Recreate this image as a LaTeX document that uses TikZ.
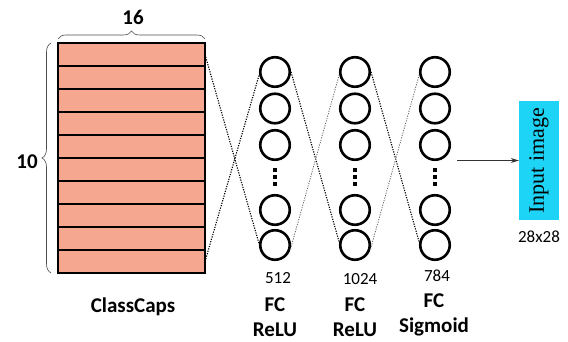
\documentclass[tikz,border=0pt]{standalone}
\usepackage{fontspec}
\setmainfont{Carlito}
\newfontfamily\serifx{Liberation Serif}
\usetikzlibrary{decorations.pathreplacing,arrows.meta}
\definecolor{salmon}{RGB}{245,168,143}
\definecolor{cyanbox}{RGB}{30,212,246}
\tikzset{
  row/.style={draw=black, line width=1.1pt, fill=salmon, minimum width=147pt, minimum height=23pt, inner sep=0pt, outer sep=0pt},
  neuron/.style={circle, draw=black, line width=2.6pt, minimum size=29.5pt, inner sep=0pt},
  dotsq/.style={fill=black, minimum size=3.2pt, inner sep=0pt},
  darkdot/.style={black, line width=1.1pt, dash pattern=on 1.2pt off 1.3pt},
  lightdot/.style={black!60, line width=0.8pt, dash pattern=on 1.2pt off 1.3pt},
  bracestyle/.style={black!70, line width=0.6pt, decorate},
  boldlab/.style={font=\fontsize{21}{24}\selectfont\bfseries, inner sep=0pt},
  numlab/.style={font=\fontsize{17}{19}\selectfont, inner sep=0pt},
}
\begin{document}
\begin{tikzpicture}[x=1pt,y=-1pt]
\useasboundingbox (0,0) rectangle (568,342);
% rows
\foreach \i in {1,...,10}{
  \node[row] (r\i) at (131.5,{43+23*(\i-0.5)}) {};
}
% braces
\draw[bracestyle, decoration={brace, amplitude=8pt}] (58,39) -- (205,39);
\draw[bracestyle, decoration={brace, amplitude=9pt}] (51,273) -- (51,43);
\node[boldlab] (n16) at (133,17) {16};
\node[boldlab] (n10) at (27,162) {10};
% neurons
\foreach \c/\x in {1/275,2/355,3/435}{
  \node[neuron] (c\c1) at (\x,72) {};
  \node[neuron] (c\c2) at (\x,108.5) {};
  \node[neuron] (c\c3) at (\x,145) {};
  \node[dotsq] (d\c1) at (\x,170) {};
  \node[dotsq] (d\c2) at (\x,177) {};
  \node[dotsq] (d\c3) at (\x,184) {};
  \node[neuron] (c\c4) at (\x,210) {};
  \node[neuron] (c\c5) at (\x,245) {};
}
% connectors
\draw[darkdot] (r1.east) -- (c15.175);
\draw[darkdot] (r10.east) -- (c11.190);
\draw[darkdot] (c11.east) -- (c25.170);
\draw[lightdot] (c15.-15) -- (c21.190);
\draw[darkdot] (c21.east) -- (c35.170);
\draw[lightdot] (c25.-15) -- (c31.190);
% output
\node[fill=cyanbox, minimum width=40pt, minimum height=118pt, inner sep=0pt] (inp) at (539,160.5) {};
\node[rotate=90, font=\serifx\fontsize{22}{24}\selectfont, inner sep=0pt] (inptxt) at (inp.center) {Input image};
\coordinate (astart) at (457,160.5);
\draw[black!80, line width=0.8pt, -{Stealth[length=8pt,width=5pt]}] (astart) -- (inp.west);
\node[numlab] (n28) at (539,237) {28x28};
% labels
\node[numlab] (n512) at (278,278) {512};
\node[numlab] (n1024) at (360,279) {1024};
\node[numlab] (n784) at (437,276) {784};
\node[boldlab] (ccaps) at (133,307) {ClassCaps};
\node[boldlab] (fc1) at (275,305) {FC};
\node[boldlab] (relu1) at (275,330) {ReLU};
\node[boldlab] (fc2) at (355,305) {FC};
\node[boldlab] (relu2) at (355,330) {ReLU};
\node[boldlab] (fc3) at (434,301) {FC};
\node[boldlab] (sig) at (434,327) {Sigmoid};
\end{tikzpicture}
\end{document}
